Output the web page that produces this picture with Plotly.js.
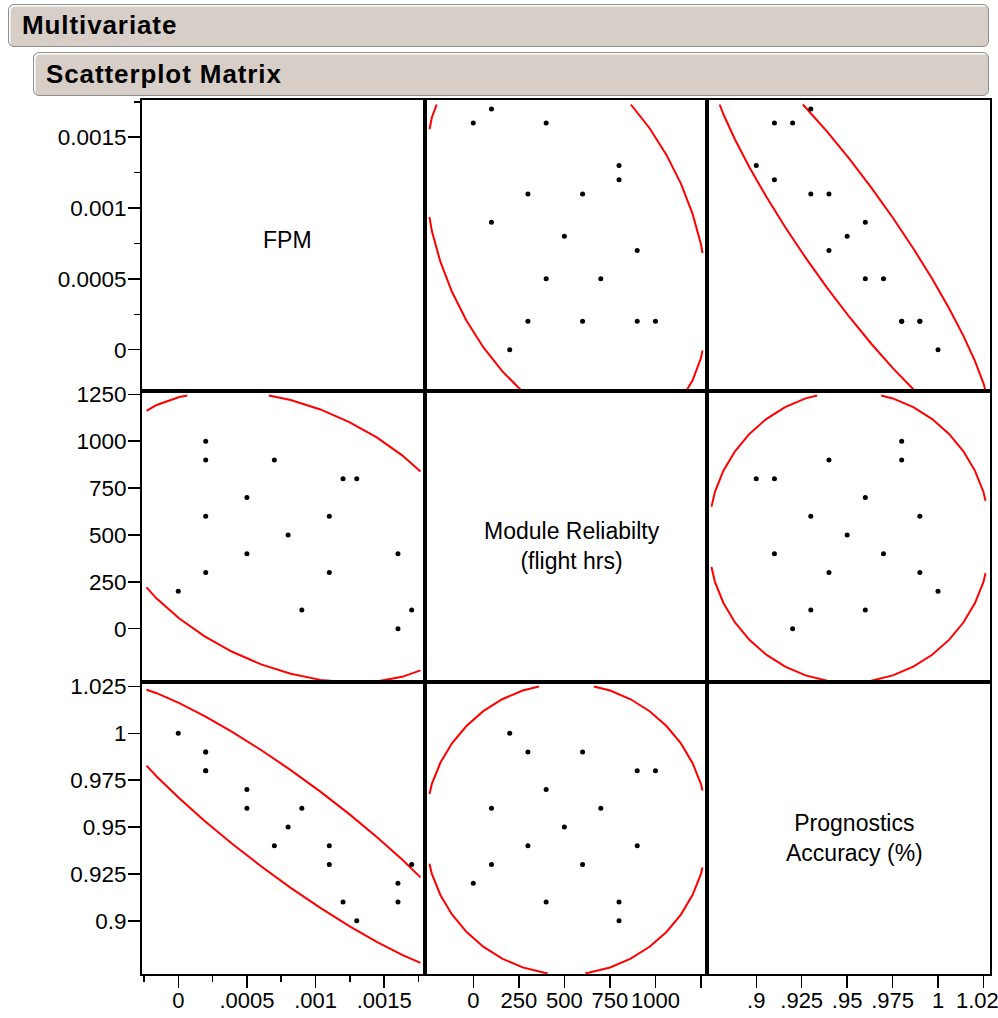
<!DOCTYPE html>
<html>
<head>
<meta charset="utf-8">
<script src="https://cdn.plot.ly/plotly-3.0.1.min.js"></script>
<style>
  html, body { margin: 0; padding: 0; background: #ffffff; }
  #wrap { position: relative; width: 998px; height: 1018px; overflow: hidden; }
  #chart { position: absolute; left: 0; top: 0; width: 998px; height: 1018px; }
  .bar {
    position: absolute; box-sizing: border-box;
    background: #d7cfc7; border: 1.5px solid #8e8e8e; border-radius: 6px;
    box-shadow: inset 1.5px 1.5px 0 #ffffff;
    font-family: Arial, "Liberation Sans", sans-serif; font-weight: bold;
    font-size: 26px; color: #000; letter-spacing: 0.9px;
    display: flex; align-items: center; z-index: 10;
  }
</style>
</head>
<body>
<div id="wrap">
  <div id="chart"></div>
  <div class="bar" style="left:8px; top:4px; width:981px; height:43px; padding-left:13px;">Multivariate</div>
  <div class="bar" style="left:33px; top:52px; width:956px; height:44px; padding-left:12px;">Scatterplot Matrix</div>
</div>
<script>
// ---- data ----
const fpm = [0.0017, 0.0016, 0.0016, 0.0013, 0.0012, 0.0011, 0.0011, 0.0009, 0.0008, 0.0007, 0.0005, 0.0005, 0.0002, 0.0002, 0.0002, 0.0002, 0];
const reliability = [100, 0, 400, 800, 800, 300, 600, 100, 500, 900, 400, 700, 300, 600, 900, 1000, 200];
const accuracy = [0.93, 0.92, 0.91, 0.90, 0.91, 0.94, 0.93, 0.96, 0.95, 0.94, 0.97, 0.96, 0.99, 0.99, 0.98, 0.98, 1.00];

const varLabels = ["FPM", "Module Reliabilty<br>(flight hrs)", "Prognostics<br>Accuracy (%)"];

const fpmTickVals = [0, 0.0005, 0.001, 0.0015];
const fpmYTickText = ["0", "0.0005", "0.001", "0.0015"];
const fpmXTickText = ["0", ".0005", ".001", ".0015"];
const fpmXMinor = [-0.00025, 0.00025, 0.00075, 0.00125, 0.00175];
const fpmYMinor = [0.00025, 0.00075, 0.00125, 0.00175];

const relTickVals = [0, 250, 500, 750, 1000, 1250];
const relYTickText = ["0", "250", "500", "750", "1000", "1250"];
const relXTickText = ["0", "250", "500", "750", "1000", ""];

const accTickVals = [0.9, 0.925, 0.95, 0.975, 1, 1.025];
const accYTickText = ["0.9", "0.925", "0.95", "0.975", "1", "1.025"];
const accXTickText = [".9", ".925", ".95", ".975", "1", "1.025"];

// ---- configuration ----
const vars = [fpm, reliability, accuracy];
const xRanges = [[-0.000264, 0.001797], [-265, 1283], [0.8729, 1.0286]];
const yRanges = [[-0.000292, 0.001763], [-284, 1268], [0.8716, 1.0274]];
const xTicks = [
  {vals: fpmTickVals, text: fpmXTickText, minor: fpmXMinor},
  {vals: relTickVals, text: relXTickText, minor: null},
  {vals: accTickVals, text: accXTickText, minor: null}
];
const yTicks = [
  {vals: fpmTickVals, text: fpmYTickText, minor: fpmYMinor},
  {vals: relTickVals, text: relYTickText, minor: null},
  {vals: accTickVals, text: accYTickText, minor: null}
];
const colDomains = [[0, 0.33373], [0.33373, 0.66627], [0.66627, 1]];
const rowDomains = [[0.66705, 1], [0.33410, 0.66705], [0, 0.33410]];
const labelShift = [{x: 4, y: 5}, {x: 6, y: -10}, {x: 6, y: -10}];
const PLOT_W = 848, PLOT_H = 874;
const CLIP_INSET = {left: 4.5, right: 4.5, top: 4.5, bottom: 1}; // px, ellipse clip inset
const ELLIPSE_OFFSET_PX = {x: 1, y: 3};                          // px, right / down

const FONT = 'Arial, "Liberation Sans", sans-serif';
const K = 2.48; // ellipse scale (~95% density contour as drawn)

function ellipse(xs, ys, nSeg) {
  const n = xs.length;
  const mx = xs.reduce((a, b) => a + b, 0) / n;
  const my = ys.reduce((a, b) => a + b, 0) / n;
  let sxx = 0, syy = 0, sxy = 0;
  for (let i = 0; i < n; i++) {
    const dx = xs[i] - mx, dy = ys[i] - my;
    sxx += dx * dx; syy += dy * dy; sxy += dx * dy;
  }
  sxx /= (n - 1); syy /= (n - 1); sxy /= (n - 1);
  const a = Math.sqrt(sxx), b = sxy / a, c = Math.sqrt(Math.max(syy - b * b, 0));
  const ex = [], ey = [];
  for (let i = 0; i <= nSeg; i++) {
    const t = 2 * Math.PI * i / nSeg;
    ex.push(mx + K * a * Math.cos(t));
    ey.push(my + K * (b * Math.cos(t) + c * Math.sin(t)));
  }
  return {x: ex, y: ey};
}

// clip a polyline to a rectangle (Liang-Barsky per segment), breaking with nulls
function clipPolyline(xs, ys, x0, x1, y0, y1) {
  const ox = [], oy = [];
  let prevFull = false;
  for (let i = 0; i < xs.length - 1; i++) {
    const px = xs[i], py = ys[i], dx = xs[i + 1] - px, dy = ys[i + 1] - py;
    let t0 = 0, t1 = 1, ok = true;
    const pp = [-dx, dx, -dy, dy], qq = [px - x0, x1 - px, py - y0, y1 - py];
    for (let k = 0; k < 4; k++) {
      if (pp[k] === 0) { if (qq[k] < 0) { ok = false; break; } }
      else {
        const r = qq[k] / pp[k];
        if (pp[k] < 0) { if (r > t1) { ok = false; break; } if (r > t0) t0 = r; }
        else { if (r < t0) { ok = false; break; } if (r < t1) t1 = r; }
      }
    }
    if (!ok) { prevFull = false; continue; }
    if (prevFull && t0 === 0) {
      ox.push(px + t1 * dx); oy.push(py + t1 * dy);
    } else {
      if (ox.length) { ox.push(null); oy.push(null); }
      ox.push(px + t0 * dx, px + t1 * dx); oy.push(py + t0 * dy, py + t1 * dy);
    }
    prevFull = (t1 === 1);
  }
  return {x: ox, y: oy};
}

const traces = [];
const layout = {
  width: 998, height: 1018,
  margin: {l: 142, r: 8, t: 100, b: 44, pad: 0},
  paper_bgcolor: "#ffffff", plot_bgcolor: "#ffffff",
  showlegend: false,
  font: {family: FONT, size: 23, color: "#000"},
  annotations: []
};

for (let r = 0; r < 3; r++) {
  for (let c = 0; c < 3; c++) {
    const p = r * 3 + c + 1;
    const xa = "x" + p, ya = "y" + p;
    const xKey = "xaxis" + (p === 1 ? "" : p), yKey = "yaxis" + (p === 1 ? "" : p);
    const bottom = (r === 2), left = (c === 0);
    const xt = xTicks[c], yt = yTicks[r];

    layout[xKey] = {
      domain: colDomains[c], range: xRanges[c], anchor: ya,
      showline: true, mirror: true, linecolor: "#000", linewidth: 2,
      showgrid: false, zeroline: false, fixedrange: true,
      tickmode: "array", tickvals: xt.vals, ticktext: xt.text,
      ticks: bottom ? "outside" : "", ticklen: 12, tickwidth: 1.5, tickcolor: "#000",
      showticklabels: bottom, tickangle: 0, ticklabeloverflow: "allow",
      ticklabelstandoff: -6,
      tickfont: {family: FONT, size: 22, color: "#000"}
    };
    if (bottom && xt.minor) {
      layout[xKey].minor = {tickmode: "array", tickvals: xt.minor, ticks: "outside", ticklen: 6, tickwidth: 1.5, tickcolor: "#000", showgrid: false};
    }
    layout[yKey] = {
      domain: rowDomains[r], range: yRanges[r], anchor: xa,
      showline: true, mirror: true, linecolor: "#000", linewidth: 2,
      showgrid: false, zeroline: false, fixedrange: true,
      tickmode: "array", tickvals: yt.vals, ticktext: yt.text,
      ticks: left ? "outside" : "", ticklen: 12, tickwidth: 1.5, tickcolor: "#000",
      showticklabels: left, ticklabeloverflow: "allow", ticklabelstandoff: -3,
      tickfont: {family: FONT, size: 22.5, color: "#000"}
    };
    if (left && yt.minor) {
      layout[yKey].minor = {tickmode: "array", tickvals: yt.minor, ticks: "outside", ticklen: 6, tickwidth: 1.5, tickcolor: "#000", showgrid: false};
    }

    if (r === c) {
      traces.push({type: "scatter", mode: "markers", x: [], y: [], xaxis: xa, yaxis: ya, hoverinfo: "skip"});
      layout.annotations.push({
        xref: xa + " domain", yref: ya + " domain", x: 0.5, y: 0.5,
        xshift: labelShift[r].x, yshift: labelShift[r].y,
        text: varLabels[r], showarrow: false,
        font: {family: FONT, size: 23, color: "#000"}, align: "center"
      });
    } else {
      const e = ellipse(vars[c], vars[r], 40);
      const xr = xRanges[c], yr = yRanges[r];
      const wPx = (colDomains[c][1] - colDomains[c][0]) * PLOT_W;
      const hPx = (rowDomains[r][1] - rowDomains[r][0]) * PLOT_H;
      const ux = (xr[1] - xr[0]) / wPx, uy = (yr[1] - yr[0]) / hPx;
      const sx = e.x.map(v => v + ELLIPSE_OFFSET_PX.x * ux);
      const sy = e.y.map(v => v - ELLIPSE_OFFSET_PX.y * uy);
      const cl = clipPolyline(sx, sy,
        xr[0] + CLIP_INSET.left * ux, xr[1] - CLIP_INSET.right * ux,
        yr[0] + CLIP_INSET.bottom * uy, yr[1] - CLIP_INSET.top * uy);
      traces.push({
        type: "scatter", mode: "lines", x: cl.x, y: cl.y, xaxis: xa, yaxis: ya,
        line: {color: "#ff0000", width: 2}, connectgaps: false, hoverinfo: "skip"
      });
      traces.push({
        type: "scatter", mode: "markers", x: vars[c], y: vars[r], xaxis: xa, yaxis: ya,
        marker: {color: "#000", size: 5}, hoverinfo: "skip"
      });
    }
  }
}

Plotly.newPlot("chart", traces, layout, {staticPlot: true, displayModeBar: false});
</script>
</body>
</html>
